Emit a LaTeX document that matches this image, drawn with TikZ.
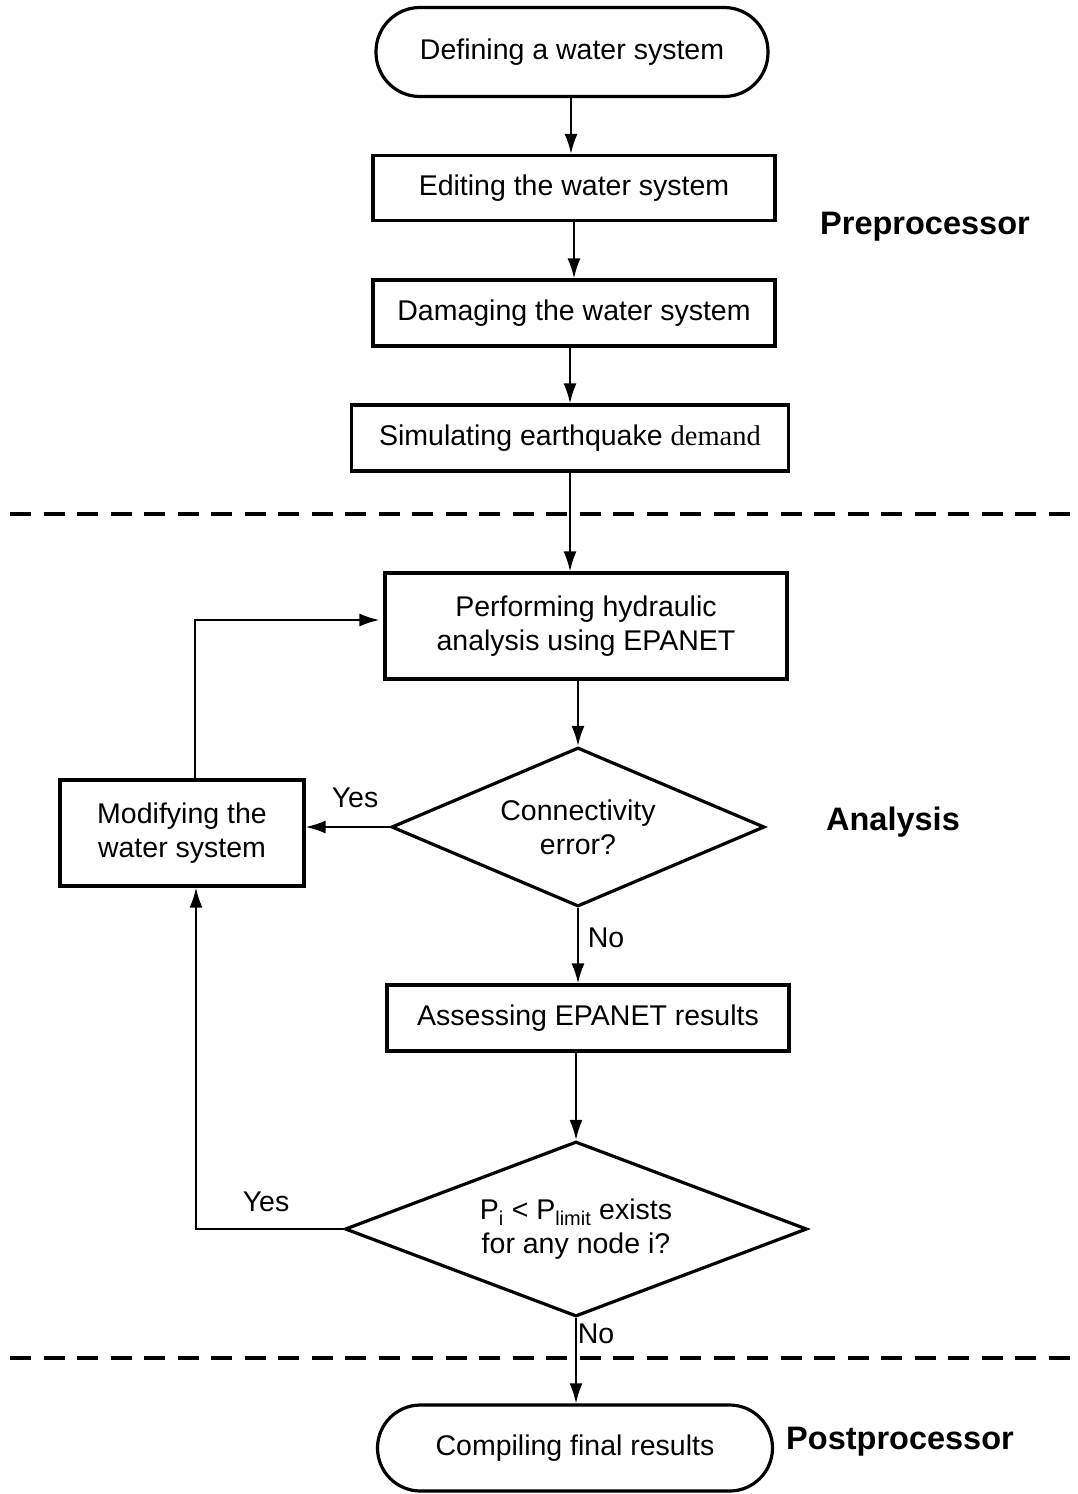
\documentclass[tikz,border=0pt]{standalone}
\usepackage{fontspec}
\setmainfont{Liberation Sans}
\newfontfamily\serifdemand{Liberation Serif}
\usetikzlibrary{shapes.geometric,arrows.meta}
\begin{document}
\begin{tikzpicture}[x=1pt,y=-1pt,
  every node/.style={font=\fontsize{28.5}{34}\selectfont},
  procbox/.style={draw,line width=3.2pt,rectangle,inner sep=0pt,align=center},
  termbox/.style={draw,line width=3.2pt,rectangle,rounded corners=44pt,inner sep=0pt,align=center},
  decbox/.style={draw,line width=3.2pt,diamond,inner sep=0pt,align=center},
  flow/.style={line width=2pt,-{Latex[length=20pt,width=13pt]}},
  sepline/.style={line width=4pt,dash pattern=on 21pt off 12.5pt},
  phase/.style={font=\fontsize{32.5}{38}\selectfont\bfseries},
  lbl/.style={inner sep=0pt}
]
\useasboundingbox (0,0) rectangle (1078,1494);

\node[termbox,minimum width=392pt,minimum height=89pt] (start) at (572,52) {Defining a water system};
\node[procbox,minimum width=402pt,minimum height=65pt] (edit) at (574,188) {Editing the water system};
\node[procbox,minimum width=402pt,minimum height=66pt] (damage) at (574,313) {Damaging the water system};
\node[procbox,minimum width=437pt,minimum height=66pt] (sim) at (570,438) {Simulating earthquake {\serifdemand demand}};
\node[procbox,minimum width=402pt,minimum height=106pt] (hyd) at (586,626) {Performing hydraulic\\analysis using EPANET};
\node[decbox,minimum width=373pt,minimum height=159pt,aspect=2.35] (conn) at (578,827) {Connectivity\\error?};
\node[procbox,minimum width=244pt,minimum height=106pt] (mod) at (182,833) {Modifying the\\water system};
\node[procbox,minimum width=402pt,minimum height=66pt] (assess) at (588,1018) {Assessing EPANET results};
\node[decbox,minimum width=462pt,minimum height=175pt,aspect=2.64] (press) at (576,1229) {P\textsubscript{i} < P\textsubscript{limit} exists\\for any node i?};
\node[termbox,minimum width=395pt,minimum height=86pt,rounded corners=43pt] (final) at (575,1448) {Compiling final results};

\node[phase] (pre) at (925,227) {Preprocessor};
\node[phase] (ana) at (893,822) {Analysis};
\node[phase] (post) at (900,1442) {Postprocessor};

\draw[sepline] (10,514) -- (1072,514);
\draw[sepline] (10,1358) -- (1072,1358);

\draw[flow] ([xshift=-1pt]start.south) -- ([xshift=-1pt]start.south |- edit.north);
\draw[flow] (edit) -- (damage);
\draw[flow] (sim.north |- damage.south) -- (sim.north);
\draw[flow] (sim.south) -- (sim.south |- hyd.north);
\draw[flow] (conn.north |- hyd.south) -- (conn.north);
\draw[flow] (conn.west) -- (conn.west -| mod.east);
\draw[flow] ([xshift=13pt]mod.north) |- ([yshift=6pt,xshift=-4pt]hyd.west);
\draw[flow] (conn.south) -- (conn.south |- assess.north);
\draw[flow] (press.north |- assess.south) -- (press.north);
\draw[flow] (press.west) -| ([xshift=14pt]mod.south);
\draw[flow] (press.south) -- (press.south |- final.north);

\node[lbl] (yes1) at (355,798) {Yes};
\node[lbl] (no1) at (606,938) {No};
\node[lbl] (yes2) at (266,1202) {Yes};
\node[lbl] (no2) at (596,1334) {No};
\end{tikzpicture}
\end{document}
